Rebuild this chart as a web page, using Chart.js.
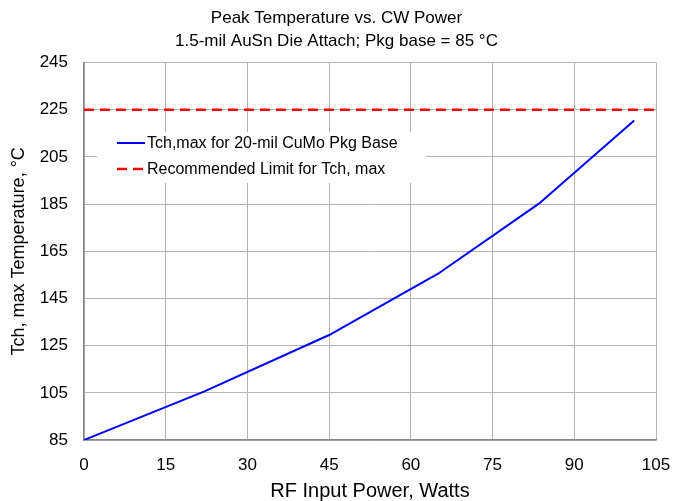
<!DOCTYPE html>
<html>
<head>
<meta charset="utf-8">
<script src="https://cdn.jsdelivr.net/npm/chart.js@4"></script>
<style>
  html, body { margin:0; padding:0; background:#fff; }
  #wrap { width:673px; height:501px; }
</style>
</head>
<body>
<div id="wrap"><canvas id="c" width="673" height="501"></canvas></div>
<script>
// data
const powerW = [0, 22, 45, 65, 83.5, 101];
const tchMax = [85, 105.5, 129.5, 155.5, 185.2, 220.5];
const limitX = [0, 105];
const limitY = [225, 225];
const seriesNames = ['Tch,max for 20-mil CuMo Pkg Base', 'Recommended Limit for Tch, max'];
const titleLines = ['Peak Temperature vs. CW Power', '1.5-mil AuSn Die Attach; Pkg base = 85 °C'];

const FONT = '"Liberation Sans", Arial, sans-serif';
Chart.defaults.font.family = FONT;
Chart.defaults.color = '#000';

// legend drawn inside the plot area like the original
const insideLegend = {
  id: 'insideLegend',
  beforeDatasetsDraw(chart) {
    const c = chart.ctx;
    const ds = chart.data.datasets;
    c.save();
    c.fillStyle = '#fff';
    c.fillRect(97, 132, 329, 51);
    c.font = '16px ' + FONT;
    c.textBaseline = 'middle';
    const rows = [143, 169];
    ds.forEach((d, i) => {
      const y = rows[i];
      c.strokeStyle = d.borderColor;
      c.lineWidth = d.borderWidth;
      c.setLineDash(d.borderDash || []);
      c.beginPath();
      c.moveTo(117, y);
      c.lineTo(145, y);
      c.stroke();
      c.setLineDash([]);
      c.fillStyle = '#000';
      c.fillText(d.label, 147, y + 1);
    });
    c.restore();
  }
};

new Chart(document.getElementById('c'), {
  type: 'scatter',
  data: {
    datasets: [
      {
        label: seriesNames[0],
        data: powerW.map((x, i) => ({ x, y: tchMax[i] })),
        showLine: true,
        borderColor: '#0000ff',
        backgroundColor: '#0000ff',
        borderWidth: 2,
        pointRadius: 0,
        tension: 0
      },
      {
        label: seriesNames[1],
        data: limitX.map((x, i) => ({ x, y: limitY[i] })),
        showLine: true,
        borderColor: '#ff0000',
        backgroundColor: '#ff0000',
        borderWidth: 2.5,
        borderDash: [10, 6],
        pointRadius: 0
      }
    ]
  },
  options: {
    responsive: false,
    animation: false,
    layout: { padding: 0 },
    plugins: {
      legend: { display: false },
      tooltip: { enabled: false },
      title: {
        display: true,
        text: titleLines,
        color: '#000',
        font: { size: 17, weight: 'normal', lineHeight: 1.4 },
        padding: { top: 6, bottom: 9 }
      }
    },
    scales: {
      x: {
        type: 'linear',
        min: 0, max: 105,
        ticks: { stepSize: 15, padding: 15, font: { size: 17 }, color: '#000' },
        grid: { color: '#b4b4b4', drawTicks: false, lineWidth: 1 },
        border: { color: '#888', width: 1.5 },
        title: { display: true, text: 'RF Input Power, Watts', font: { size: 20 }, color: '#000', padding: { top: 0, bottom: -2 } },
        afterFit(s) { s.height = 61; s.paddingLeft = 0; s.paddingRight = 17; }
      },
      y: {
        min: 85, max: 245,
        ticks: { stepSize: 20, padding: 16, font: { size: 17 }, color: '#000' },
        grid: { color: '#b4b4b4', drawTicks: false, lineWidth: 1 },
        border: { color: '#888', width: 1.5 },
        title: { display: true, text: 'Tch, max Temperature, °C', font: { size: 18 }, color: '#000', padding: { top: 8, bottom: 0 } },
        afterFit(s) { s.width = 84; s.paddingTop = 0; s.paddingBottom = 0; }
      }
    }
  },
  plugins: [insideLegend]
});
</script>
</body>
</html>
